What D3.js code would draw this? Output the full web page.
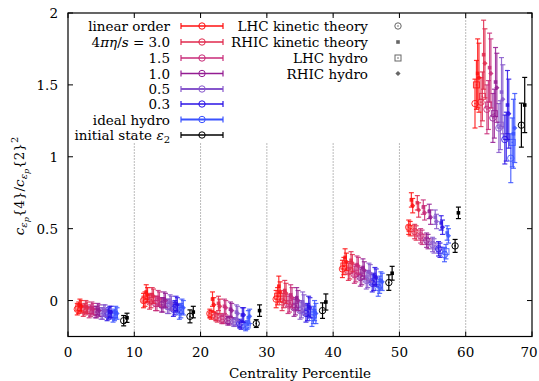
<!DOCTYPE html>
<html><head><meta charset="utf-8">
<script src="https://cdn.jsdelivr.net/npm/d3@7/dist/d3.min.js"></script>
<style>body{margin:0;background:#fff}svg{display:block}svg text{font-family:"DejaVu Serif","Liberation Serif",serif !important}</style>
</head><body><svg id="c" width="539" height="381"></svg>
<script>
// ---------- data ----------
const binStarts = [0, 10, 20, 30, 40, 50, 60];
const seriesLabels = ["linear order", "3.0", "1.5", "1.0", "0.5", "0.3", "ideal hydro"];
const seriesColors = ["#ff1010", "#e0284c", "#c82a78", "#941c92", "#8656cc", "#2a12e6", "#3a52ff"];
// centrality position of each series inside a 10% bin
const seriesOffset = [1.4, 2.3, 3.2, 4.1, 5.0, 5.9, 6.8];
const initOffsetLHC = 8.4, initOffsetRHIC = 8.9;
const xTicks = [0, 10, 20, 30, 40, 50, 60, 70];
const yTicks = [0, 0.5, 1, 1.5, 2];
const yTickLabels = ["0", "0.5", "1", "1.5", "2"];

// LHC kinetic theory (circles)
const lhcKin = [
  [-0.06,-0.07,-0.08,-0.08,-0.09,-0.10,-0.11],
  [0.00,-0.01,-0.02,-0.03,-0.04,-0.06,-0.08],
  [-0.09,-0.11,-0.13,-0.14,-0.15,-0.16,-0.18],
  [0.01,-0.01,-0.03,-0.05,-0.07,-0.09,-0.12],
  [0.22,0.20,0.18,0.16,0.14,0.12,0.09],
  [0.51,0.48,0.45,0.42,0.39,0.36,0.32],
  [1.37,1.38,1.33,1.27,1.20,1.12,0.99]
];
// LHC hydro (squares)
const lhcHydro = [
  [-0.05,-0.06,-0.07,-0.08,-0.09,-0.09,-0.10],
  [0.01,0.00,-0.02,-0.03,-0.04,-0.05,-0.07],
  [-0.10,-0.12,-0.13,-0.14,-0.15,-0.17,-0.17],
  [0.03,0.01,-0.02,-0.04,-0.06,-0.08,-0.10],
  [0.24,0.21,0.19,0.17,0.15,0.13,0.11],
  [0.50,0.47,0.44,0.41,0.38,0.35,0.34],
  [1.50,1.42,1.36,1.30,1.22,1.14,1.10]
];
// RHIC kinetic theory (filled points)
const rhicKin = [
  [-0.03,-0.04,-0.05,-0.06,-0.07,-0.08,-0.08],
  [0.06,0.04,0.02,0.01,-0.01,-0.02,-0.04],
  [0.01,-0.02,-0.04,-0.06,-0.08,-0.10,-0.12],
  [0.10,0.07,0.04,0.02,-0.01,-0.04,-0.07],
  [0.30,0.28,0.25,0.23,0.20,0.17,0.14],
  [0.70,0.68,0.65,0.62,0.58,0.54,0.47],
  [1.58,1.71,1.62,1.52,1.45,1.36,1.16]
];
// RHIC hydro (diamonds)
const rhicHydro = [
  [-0.04,-0.05,-0.06,-0.07,-0.07,-0.08,-0.09],
  [0.04,0.03,0.01,0.00,-0.02,-0.03,-0.05],
  [-0.03,-0.04,-0.05,-0.07,-0.09,-0.10,-0.11],
  [0.06,0.05,0.02,0.00,-0.03,-0.05,-0.09],
  [0.27,0.26,0.24,0.21,0.19,0.16,0.13],
  [0.66,0.63,0.61,0.58,0.55,0.51,0.45],
  [1.55,1.65,1.58,1.48,1.40,1.30,1.20]
];
const initLHC = [-0.14, -0.11, -0.16, -0.07, 0.125, 0.38, 1.22];
const initRHIC = [-0.12, -0.08, -0.07, -0.01, 0.19, 0.61, 1.36];
const errLHC = [0.04, 0.05, 0.03, 0.06, 0.06, 0.05, 0.17];
const errRHIC = [0.04, 0.05, 0.05, 0.07, 0.06, 0.05, 0.24];

// ---------- drawing ----------
const svg = d3.select("#c");
const W = 539;
const x = d3.scaleLinear().domain([0, 70]).range([68, 532]);
const y = d3.scaleLinear().domain([-0.25, 2]).range([336.5, 13]);
const FS = 13.5;
const yMin = -0.25, yMax = 2;

// vertical dotted grid
svg.append("g").selectAll("line").data(xTicks.slice(1, -1)).join("line")
  .attr("x1", d => x(d)).attr("x2", d => x(d)).attr("y1", y(yMin)).attr("y2", y(yMax))
  .attr("stroke", "#777").attr("stroke-width", 1).attr("stroke-dasharray", "1,2");

// points
const shifts = {lhcKin: 0, lhcHydro: 0.22, rhicKin: 0.4, rhicHydro: 0.6};
const pts = [];
binStarts.forEach((b, bi) => {
  seriesColors.forEach((col, si) => {
    pts.push({x: b + seriesOffset[si] + shifts.lhcKin, v: lhcKin[bi][si], e: errLHC[bi], c: col, t: "lk"});
    pts.push({x: b + seriesOffset[si] + shifts.lhcHydro, v: lhcHydro[bi][si], e: errLHC[bi], c: col, t: "lh"});
  });
  seriesColors.forEach((col, si) => {
    pts.push({x: b + seriesOffset[si] + shifts.rhicKin, v: rhicKin[bi][si], e: errRHIC[bi], c: col, t: "rk"});
    pts.push({x: b + seriesOffset[si] + shifts.rhicHydro, v: rhicHydro[bi][si], e: errRHIC[bi], c: col, t: "rh"});
  });
  pts.push({x: b + initOffsetLHC, v: initLHC[bi], e: errLHC[bi] * 0.9, c: "#000", t: "lk"});
  pts.push({x: b + initOffsetRHIC, v: initRHIC[bi], e: errRHIC[bi] * 0.8, c: "#000", t: "rk"});
});

function marker(g, t, cx, cy, col, op) {
  if (t === "lk") {
    g.append("circle").attr("cx", cx).attr("cy", cy).attr("r", 3.2).attr("fill", "none").attr("stroke", col).attr("stroke-width", 1).attr("opacity", op);
    g.append("circle").attr("cx", cx).attr("cy", cy).attr("r", 0.8).attr("fill", col).attr("opacity", op);
  } else if (t === "lh") {
    g.append("rect").attr("x", cx - 3).attr("y", cy - 3).attr("width", 6).attr("height", 6).attr("fill", "none").attr("stroke", col).attr("stroke-width", 1).attr("opacity", op);
    g.append("circle").attr("cx", cx).attr("cy", cy).attr("r", 0.8).attr("fill", col).attr("opacity", op);
  } else if (t === "rk") {
    g.append("rect").attr("x", cx - 1.8).attr("y", cy - 1.8).attr("width", 3.6).attr("height", 3.6).attr("fill", col).attr("opacity", op);
  } else {
    g.append("path").attr("d", `M${cx},${cy-2.6}L${cx+2.6},${cy}L${cx},${cy+2.6}L${cx-2.6},${cy}Z`).attr("fill", col).attr("opacity", op);
  }
}

const pg = svg.append("g");
pts.forEach(p => {
  const cx = x(p.x), cy = y(p.v), op = p.c === "#000" ? 1 : 0.85;
  const g = pg.append("g");
  g.append("line").attr("x1", cx).attr("x2", cx).attr("y1", y(p.v - p.e)).attr("y2", y(p.v + p.e))
    .attr("stroke", p.c).attr("stroke-width", 1.2).attr("opacity", op);
  [p.v - p.e, p.v + p.e].forEach(v => g.append("line").attr("x1", cx - 2.5).attr("x2", cx + 2.5)
    .attr("y1", y(v)).attr("y2", y(v)).attr("stroke", p.c).attr("stroke-width", 1.2).attr("opacity", op));
  marker(g, p.t, cx, cy, p.c, op);
});

// legend (opaque box)
svg.append("rect").attr("x", 70).attr("y", 17).attr("width", 340).attr("height", 126).attr("fill", "#fff");
const rowsY = [26, 42, 58, 73.5, 89, 104, 119.5, 135];
const leg = svg.append("g");
const legLabels = ["linear order", null, "1.5", "1.0", "0.5", "0.3", "ideal hydro", null];
const legColors = seriesColors.concat(["#000"]);
rowsY.forEach((ry, i) => {
  const t = leg.append("text").attr("x", 170).attr("y", ry + 5).attr("text-anchor", "end").attr("font-size", FS);
  if (i === 1) {
    t.append("tspan").text("4");
    t.append("tspan").attr("font-style", "italic").text("πη");
    t.append("tspan").text("/");
    t.append("tspan").attr("font-style", "italic").text("s");
    t.append("tspan").text(" = 3.0");
  } else if (i === 7) {
    t.append("tspan").text("initial state ");
    t.append("tspan").attr("font-style", "italic").text("ε");
    t.append("tspan").attr("font-size", 10).attr("dy", 3).text("2");
  } else t.text(legLabels[i]);
  const c = legColors[i];
  leg.append("line").attr("x1", 181).attr("x2", 223).attr("y1", ry).attr("y2", ry).attr("stroke", c).attr("stroke-width", i === 4 || i === 6 ? 2 : 1.3);
  [181, 223].forEach(xx => leg.append("line").attr("x1", xx).attr("x2", xx).attr("y1", ry - 3).attr("y2", ry + 3).attr("stroke", c).attr("stroke-width", 1.2));
  leg.append("circle").attr("cx", 202).attr("cy", ry).attr("r", 3.2).attr("fill", "none").attr("stroke", c).attr("stroke-width", 1);
});
const rightLabels = ["LHC kinetic theory", "RHIC kinetic theory", "LHC hydro", "RHIC hydro"];
const rightTypes = ["lk", "rk", "lh", "rh"];
rightLabels.forEach((lab, i) => {
  leg.append("text").attr("x", 368).attr("y", rowsY[i] + 5).attr("text-anchor", "end").attr("font-size", FS).text(lab);
  marker(leg, rightTypes[i], 398, rowsY[i], "#666", 1);
});

// frame and ticks
svg.append("rect").attr("x", x(0)).attr("y", y(yMax)).attr("width", x(70) - x(0)).attr("height", y(yMin) - y(yMax))
  .attr("fill", "none").attr("stroke", "#000").attr("stroke-width", 1.2);
const tk = svg.append("g").attr("stroke", "#000").attr("stroke-width", 1);
xTicks.forEach(d => {
  tk.append("line").attr("x1", x(d)).attr("x2", x(d)).attr("y1", y(yMin)).attr("y2", y(yMin) - 5);
  tk.append("line").attr("x1", x(d)).attr("x2", x(d)).attr("y1", y(yMax)).attr("y2", y(yMax) + 5);
});
yTicks.forEach(d => {
  tk.append("line").attr("x1", x(0)).attr("x2", x(0) + 5).attr("y1", y(d)).attr("y2", y(d));
  tk.append("line").attr("x1", x(70)).attr("x2", x(70) - 5).attr("y1", y(d)).attr("y2", y(d));
});
svg.append("g").selectAll("text").data(xTicks).join("text")
  .attr("x", d => Math.min(x(d), W - 10)).attr("y", 357).attr("text-anchor", "middle").attr("font-size", FS).text(d => d);
svg.append("g").selectAll("text").data(yTicks).join("text")
  .attr("x", 58).attr("y", d => y(d) + 5).attr("text-anchor", "end").attr("font-size", FS).text((d, i) => yTickLabels[i]);
svg.append("text").attr("x", x(35)).attr("y", 378).attr("text-anchor", "middle").attr("font-size", FS).text("Centrality Percentile");

// y-axis title
const yt = svg.append("text").attr("transform", "translate(24,186) rotate(-90)").attr("text-anchor", "middle").attr("font-size", FS);
yt.append("tspan").attr("font-style", "italic").text("c");
yt.append("tspan").attr("font-size", 10).attr("font-style", "italic").attr("dy", 3).text("ε");
yt.append("tspan").attr("font-size", 8).attr("font-style", "italic").attr("dy", 2).text("p");
yt.append("tspan").attr("dy", -5).text("{4}/");
yt.append("tspan").attr("font-style", "italic").text("c");
yt.append("tspan").attr("font-size", 10).attr("font-style", "italic").attr("dy", 3).text("ε");
yt.append("tspan").attr("font-size", 8).attr("font-style", "italic").attr("dy", 2).text("p");
yt.append("tspan").attr("dy", -5).text("{2}");
yt.append("tspan").attr("font-size", 10).attr("dy", -6).text("2");
</script></body></html>
